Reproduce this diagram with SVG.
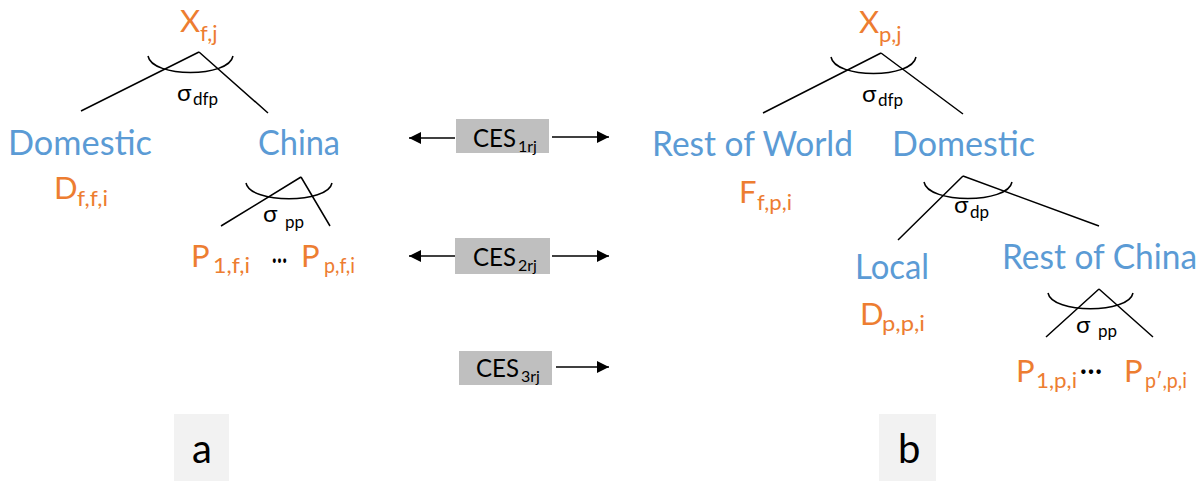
<svg xmlns="http://www.w3.org/2000/svg" width="1204" height="481" viewBox="0 0 1204 481">
<defs>
<style>
text{font-family:Lato,"Open Sans","Liberation Sans",sans-serif}
.lbl{fill:#5B9BD5;font-size:34px}
.v{fill:#ED7D31;font-size:31px}
.vs{fill:#ED7D31;font-size:22px}
.sg{fill:#000;font-size:24px}
.sgs{fill:#000;font-size:17px}
.dots{fill:#000;font-size:30px;font-weight:bold}
.ces{fill:#000;font-size:25px}
.cess{fill:#000;font-size:16px}
.tag{fill:#000;font-size:40px}
.ln{stroke:#000;stroke-width:1.5;fill:none}
.box{fill:#BFBFBF}
.tagbox{fill:#F2F2F2}
</style>
<marker id="ah" viewBox="0 0 12 12" refX="12" refY="6" markerWidth="12" markerHeight="12" markerUnits="userSpaceOnUse" orient="auto">
<path d="M0,0 L12,6 L0,12 Z" fill="#000"/>
</marker>
</defs>
<rect width="1204" height="481" fill="#fff"/>

<g id="connectors">
<path class="ln" d="M199,52 L81,111 M199,52 L268,113"/>
<path class="ln" d="M148,56 C152,78 229,78 233,56"/>
<path class="ln" d="M301,177 L221,226 M301,177 L330,226"/>
<path class="ln" d="M246,183 C250,204 328,204 332,183"/>
<path class="ln" d="M881,53 L763,113 M881,53 L963,114"/>
<path class="ln" d="M831,57 C835,79 912,79 916,57"/>
<path class="ln" d="M963,176 L898,240 M963,176 L1099,226"/>
<path class="ln" d="M924,182 C928,204 1008,204 1012,182"/>
<path class="ln" d="M1099,289 L1046,337 M1099,289 L1153,337"/>
<path class="ln" d="M1048,293 C1052,314 1129,314 1133,293"/>
<line class="ln" x1="455" y1="138" x2="409" y2="138" marker-end="url(#ah)"/>
<line class="ln" x1="552" y1="137" x2="609" y2="137" marker-end="url(#ah)"/>
<line class="ln" x1="455" y1="256" x2="409" y2="256" marker-end="url(#ah)"/>
<line class="ln" x1="552" y1="256" x2="609" y2="256" marker-end="url(#ah)"/>
<line class="ln" x1="556" y1="367" x2="609" y2="367" marker-end="url(#ah)"/>
</g>

<g id="a-Xfj"><text class="v" x="180" y="32">X</text><text class="vs" x="200" y="41">f,j</text></g>
<g id="a-sigma-dfp"><text class="sg" x="177" y="101">σ</text><text class="sgs" x="193" y="105">dfp</text></g>
<g id="a-domestic"><text class="lbl" x="8" y="155" textLength="144" lengthAdjust="spacingAndGlyphs">Domestic</text></g>
<g id="a-Dffi"><text class="v" x="54" y="199">D</text><text class="vs" x="77" y="206" textLength="31" lengthAdjust="spacingAndGlyphs">f,f,i</text></g>
<g id="a-china"><text class="lbl" x="258" y="155" textLength="82" lengthAdjust="spacingAndGlyphs">China</text></g>
<g id="a-sigma-pp"><text class="sg" x="263" y="222">σ</text><text class="sgs" x="285" y="228">pp</text></g>
<g id="a-P1fi"><text class="v" x="191" y="267">P</text><text class="vs" x="213" y="273" textLength="37" lengthAdjust="spacingAndGlyphs">1,f,i</text></g>
<g id="a-dots"><text class="dots" x="272" y="263" textLength="15" lengthAdjust="spacingAndGlyphs">…</text></g>
<g id="a-Ppfi"><text class="v" x="301" y="267">P</text><text class="vs" x="324" y="273" textLength="31" lengthAdjust="spacingAndGlyphs">p,f,i</text></g>

<g id="ces1"><rect class="box" x="456" y="119" width="93" height="34"/><text class="ces" x="473" y="147" textLength="43" lengthAdjust="spacingAndGlyphs">CES</text><text class="cess" x="518" y="152">1rj</text></g>
<g id="ces2"><rect class="box" x="455" y="238" width="95" height="36"/><text class="ces" x="473" y="266" textLength="43" lengthAdjust="spacingAndGlyphs">CES</text><text class="cess" x="518" y="271">2rj</text></g>
<g id="ces3"><rect class="box" x="459" y="351" width="93" height="34"/><text class="ces" x="476" y="377" textLength="43" lengthAdjust="spacingAndGlyphs">CES</text><text class="cess" x="521" y="382">3rj</text></g>

<g id="b-Xpj"><text class="v" x="859" y="33">X</text><text class="vs" x="879" y="42">p,j</text></g>
<g id="b-sigma-dfp"><text class="sg" x="862" y="102">σ</text><text class="sgs" x="878" y="106">dfp</text></g>
<g id="b-row"><text class="lbl" x="652" y="156" textLength="201" lengthAdjust="spacingAndGlyphs">Rest of World</text></g>
<g id="b-Ffpi"><text class="v" x="739" y="203">F</text><text class="vs" x="757" y="210" textLength="35" lengthAdjust="spacingAndGlyphs">f,p,i</text></g>
<g id="b-domestic"><text class="lbl" x="892" y="156" textLength="143" lengthAdjust="spacingAndGlyphs">Domestic</text></g>
<g id="b-sigma-dp"><text class="sg" x="954" y="213">σ</text><text class="sgs" x="970" y="218">dp</text></g>
<g id="b-local"><text class="lbl" x="855" y="279" textLength="74" lengthAdjust="spacingAndGlyphs">Local</text></g>
<g id="b-Dppi"><text class="v" x="860" y="325">D</text><text class="vs" x="882" y="331" textLength="43" lengthAdjust="spacingAndGlyphs">p,p,i</text></g>
<g id="b-roc"><text class="lbl" x="1002" y="269" textLength="195" lengthAdjust="spacingAndGlyphs">Rest of China</text></g>
<g id="b-sigma-pp"><text class="sg" x="1076" y="333">σ</text><text class="sgs" x="1098" y="337">pp</text></g>
<g id="b-P1pi"><text class="v" x="1016" y="382">P</text><text class="vs" x="1036" y="388" textLength="41" lengthAdjust="spacingAndGlyphs">1,p,i</text></g>
<g id="b-dots"><text class="dots" x="1080" y="374" textLength="22" lengthAdjust="spacingAndGlyphs">…</text></g>
<g id="b-Pppi"><text class="v" x="1124" y="382">P</text><text class="vs" x="1145" y="388" textLength="42" lengthAdjust="spacingAndGlyphs">p′,p,i</text></g>

<g id="tag-a"><rect class="tagbox" x="174" y="414" width="55" height="67"/><text class="tag" x="192" y="463">a</text></g>
<g id="tag-b"><rect class="tagbox" x="879" y="414" width="57" height="67"/><text class="tag" x="898" y="463">b</text></g>
</svg>
